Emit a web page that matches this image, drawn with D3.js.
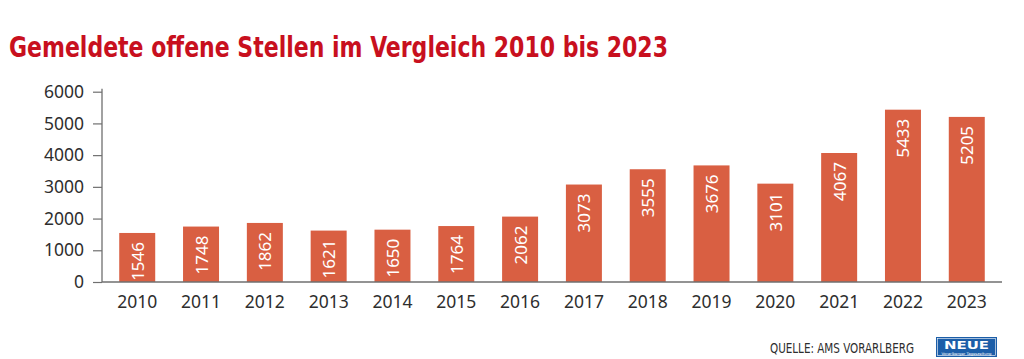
<!DOCTYPE html>
<html>
<head>
<meta charset="utf-8">
<script src="https://cdn.jsdelivr.net/npm/d3@7"></script>
<style>
  body { margin: 0; background: #fff; }
  svg { display: block; }
</style>
</head>
<body>
<svg width="1024" height="359"></svg>
<script>
// chart data
var years = ['2010', '2011', '2012', '2013', '2014', '2015', '2016',
             '2017', '2018', '2019', '2020', '2021', '2022', '2023'];
var openPositions = [1546, 1748, 1862, 1621, 1650, 1764, 2062,
                     3073, 3555, 3676, 3101, 4067, 5433, 5205];
var yTicks = [0, 1000, 2000, 3000, 4000, 5000, 6000];

var TITLE = 'Gemeldete offene Stellen im Vergleich 2010 bis 2023';
var SOURCE = 'QUELLE: AMS VORARLBERG';

var BAR_FILL = '#d95f42';
var TITLE_RED = '#c8101e';
var TEXT_COLOR = '#2e2e2e';
var AXIS_COLOR = '#6f6f6f';

var svg = d3.select('svg');
var data = years.map(function (y, i) { return { year: y, value: openPositions[i] }; });

var x = d3.scaleBand()
    .domain(years)
    .range([102, 1002])
    .paddingInner(0.436)
    .paddingOuter(0.27);

var y = d3.scaleLinear()
    .domain([0, 6000])
    .range([282, 91.7]);

// title
svg.append('text')
    .attr('x', 9)
    .attr('y', 57)
    .attr('textLength', 659)
    .attr('lengthAdjust', 'spacingAndGlyphs')
    .style('font-family', '"DejaVu Sans Condensed", "DejaVu Sans", sans-serif')
    .style('font-stretch', 'condensed')
    .style('font-weight', 'bold')
    .style('font-size', '29px')
    .attr('fill', TITLE_RED)
    .text(TITLE);

// y axis, ticks to the left, plain numbers
var yAxis = d3.axisLeft(y)
    .tickValues(yTicks)
    .tickFormat(d3.format('d'))
    .tickSize(9)
    .tickPadding(9)
    .tickSizeOuter(0);

var gy = svg.append('g')
    .attr('transform', 'translate(102,0)')
    .call(yAxis);
gy.select('.domain').remove();
gy.selectAll('.tick line').attr('stroke', AXIS_COLOR).attr('stroke-width', 1.2);
gy.selectAll('.tick text')
    .attr('fill', TEXT_COLOR)
    .style('font-family', '"Noto Sans", "Open Sans", sans-serif')
    .style('font-size', '17.5px');

// vertical axis line
svg.append('line')
    .attr('x1', 102).attr('x2', 102)
    .attr('y1', y(6000) - 3).attr('y2', y(0))
    .attr('stroke', AXIS_COLOR).attr('stroke-width', 1.3);

// bars
svg.selectAll('rect.bar')
    .data(data)
    .enter().append('rect')
    .attr('class', 'bar')
    .attr('x', function (d) { return x(d.year); })
    .attr('width', x.bandwidth())
    .attr('y', function (d) { return y(d.value); })
    .attr('height', function (d) { return y(0) - y(d.value); })
    .attr('fill', BAR_FILL);

// baseline
svg.append('line')
    .attr('x1', 102).attr('x2', 1002)
    .attr('y1', y(0)).attr('y2', y(0))
    .attr('stroke', AXIS_COLOR).attr('stroke-width', 1.3);

// value labels, rotated, read from bottom to top
svg.selectAll('text.val')
    .data(data)
    .enter().append('text')
    .attr('class', 'val')
    .attr('transform', function (d) {
        return 'translate(' + (x(d.year) + x.bandwidth() / 2 + 6.5) + ',' + (y(d.value) + 9) + ') rotate(-90)';
    })
    .attr('text-anchor', 'end')
    .attr('fill', '#fff')
    .style('font-family', '"Noto Sans", "Open Sans", sans-serif')
    .style('font-size', '17px')
    .text(function (d) { return d.value; });

// x labels
svg.selectAll('text.year')
    .data(years)
    .enter().append('text')
    .attr('class', 'year')
    .attr('x', function (d) { return x(d) + x.bandwidth() / 2; })
    .attr('y', 307.5)
    .attr('text-anchor', 'middle')
    .attr('fill', TEXT_COLOR)
    .style('font-family', '"Noto Sans", "Open Sans", sans-serif')
    .style('font-size', '17.5px')
    .text(function (d) { return d; });

// source line
svg.append('text')
    .attr('x', 770)
    .attr('y', 353)
    .attr('textLength', 144)
    .attr('lengthAdjust', 'spacingAndGlyphs')
    .attr('fill', TEXT_COLOR)
    .style('font-family', '"DejaVu Sans Condensed", "Noto Sans", sans-serif')
    .style('font-size', '14px')
    .text(SOURCE);

// NEUE logo
var logo = svg.append('g').attr('transform', 'translate(936,337)');
logo.append('rect')
    .attr('width', 61).attr('height', 20)
    .attr('fill', '#1c5ea8');
logo.append('rect')
    .attr('x', 1.5).attr('y', 1.5)
    .attr('width', 58).attr('height', 17)
    .attr('fill', 'none').attr('stroke', '#fff').attr('stroke-width', 0.6);
logo.append('text')
    .attr('x', 30.5).attr('y', 11.5)
    .attr('text-anchor', 'middle')
    .attr('textLength', 45)
    .attr('lengthAdjust', 'spacingAndGlyphs')
    .attr('fill', '#fff')
    .style('font-family', '"DejaVu Sans", sans-serif')
    .style('font-weight', 'bold')
    .style('font-size', '11px')
    .text('NEUE');
logo.append('text')
    .attr('x', 30.5).attr('y', 17.6)
    .attr('text-anchor', 'middle')
    .attr('textLength', 50)
    .attr('lengthAdjust', 'spacingAndGlyphs')
    .attr('fill', '#fff')
    .style('font-family', '"DejaVu Sans", sans-serif')
    .style('font-size', '3.5px')
    .text('Vorarlberger Tageszeitung');
</script>
</body>
</html>
